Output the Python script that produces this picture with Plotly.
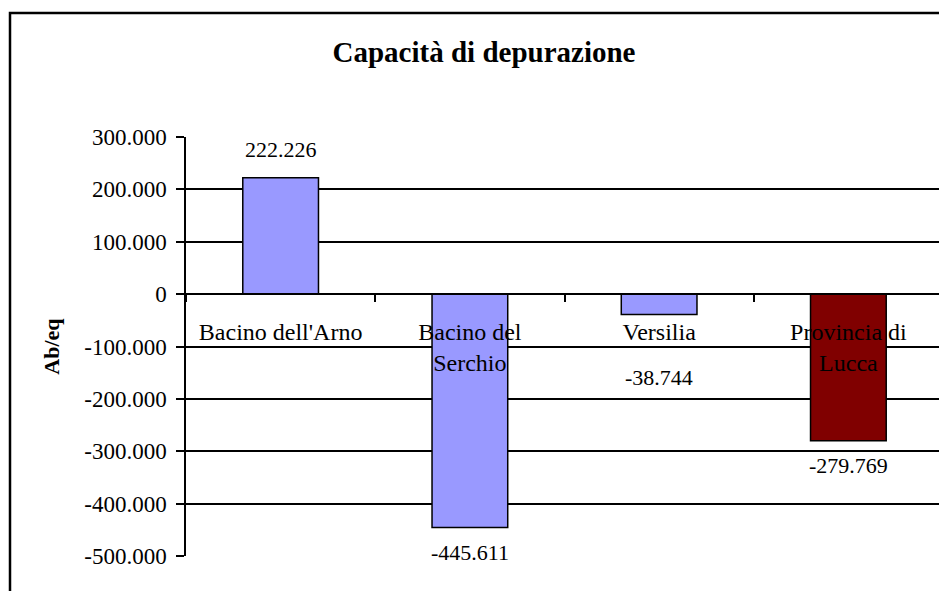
import plotly.graph_objects as go

# dati
aree = ["Bacino dell'Arno", "Bacino del<br>Serchio", "Versilia", "Provincia di<br>Lucca"]
capacita = [222226, -445611, -38744, -279769]
colori = ["#9999FF", "#9999FF", "#9999FF", "#800000"]
tick_y = [300000, 200000, 100000, 0, -100000, -200000, -300000, -400000, -500000]


def fmt(v):
    # separatore delle migliaia col punto, segno meno col trattino
    return f"{v:,}".replace(",", ".")


# la pagina ha 8px di margine sul body: si compensa qui
W, H = 947, 591
L, T = 178, 129
pw, ph = 757, 419
R, B = W - L - pw, H - T - ph

serif = "Liberation Serif, Times New Roman, serif"

fig = go.Figure(go.Bar(
    x=aree, y=capacita, width=0.4,
    marker=dict(color=colori, line=dict(color="black", width=1.5)),
    hoverinfo="skip",
))

# etichette dei valori (quella di Versilia spostata piu' in basso, come nell'originale)
spost = {"Versilia": -63}
for a, v in zip(aree, capacita):
    sh = spost.get(a, 28 if v > 0 else -25)
    fig.add_annotation(x=a, y=v, yshift=sh, showarrow=False, text=fmt(v),
                       font=dict(family=serif, size=22, color="black"))

# cornice esterna
fig.add_shape(type="rect", xref="paper", yref="paper",
              x0=(2 - L) / pw, x1=(W + 30 - L) / pw,
              y0=-(B + 30) / ph, y1=(T + ph - 5) / ph,
              line=dict(color="black", width=2.5))

fig.update_layout(
    width=W, height=H,
    margin=dict(l=L, r=R, t=T, b=B),
    paper_bgcolor="white", plot_bgcolor="white",
    showlegend=False,
    font=dict(family=serif, color="black", size=22),
    title=dict(text="<b>Capacità di depurazione</b>", x=476 / W, xref="container",
               xanchor="center", y=1 - 44 / H, yref="container", yanchor="middle",
               font=dict(family=serif, size=29, color="black")),
    xaxis=dict(anchor="free", position=500000 / 800000, showline=True,
               linecolor="black", linewidth=1.5, ticks="outside", ticklen=7,
               tickwidth=1.5, tickcolor="black", tickson="boundaries",
               showgrid=False, ticklabelstandoff=16,
               tickfont=dict(family=serif, size=24, color="black")),
    yaxis=dict(range=[-500000, 300000], tickvals=tick_y,
               ticktext=[fmt(v) for v in tick_y],
               showline=True, linecolor="black", linewidth=1.5,
               ticks="outside", ticklen=8, tickwidth=1.5, tickcolor="black",
               showgrid=True, gridcolor="black", gridwidth=1.5, zeroline=False,
               ticklabelstandoff=5,
               tickfont=dict(family=serif, size=23, color="black"),
               title=dict(text="<b>Ab/eq</b>", standoff=19,
                          font=dict(family=serif, size=22, color="black"))),
)

fig.write_html("out.html")
